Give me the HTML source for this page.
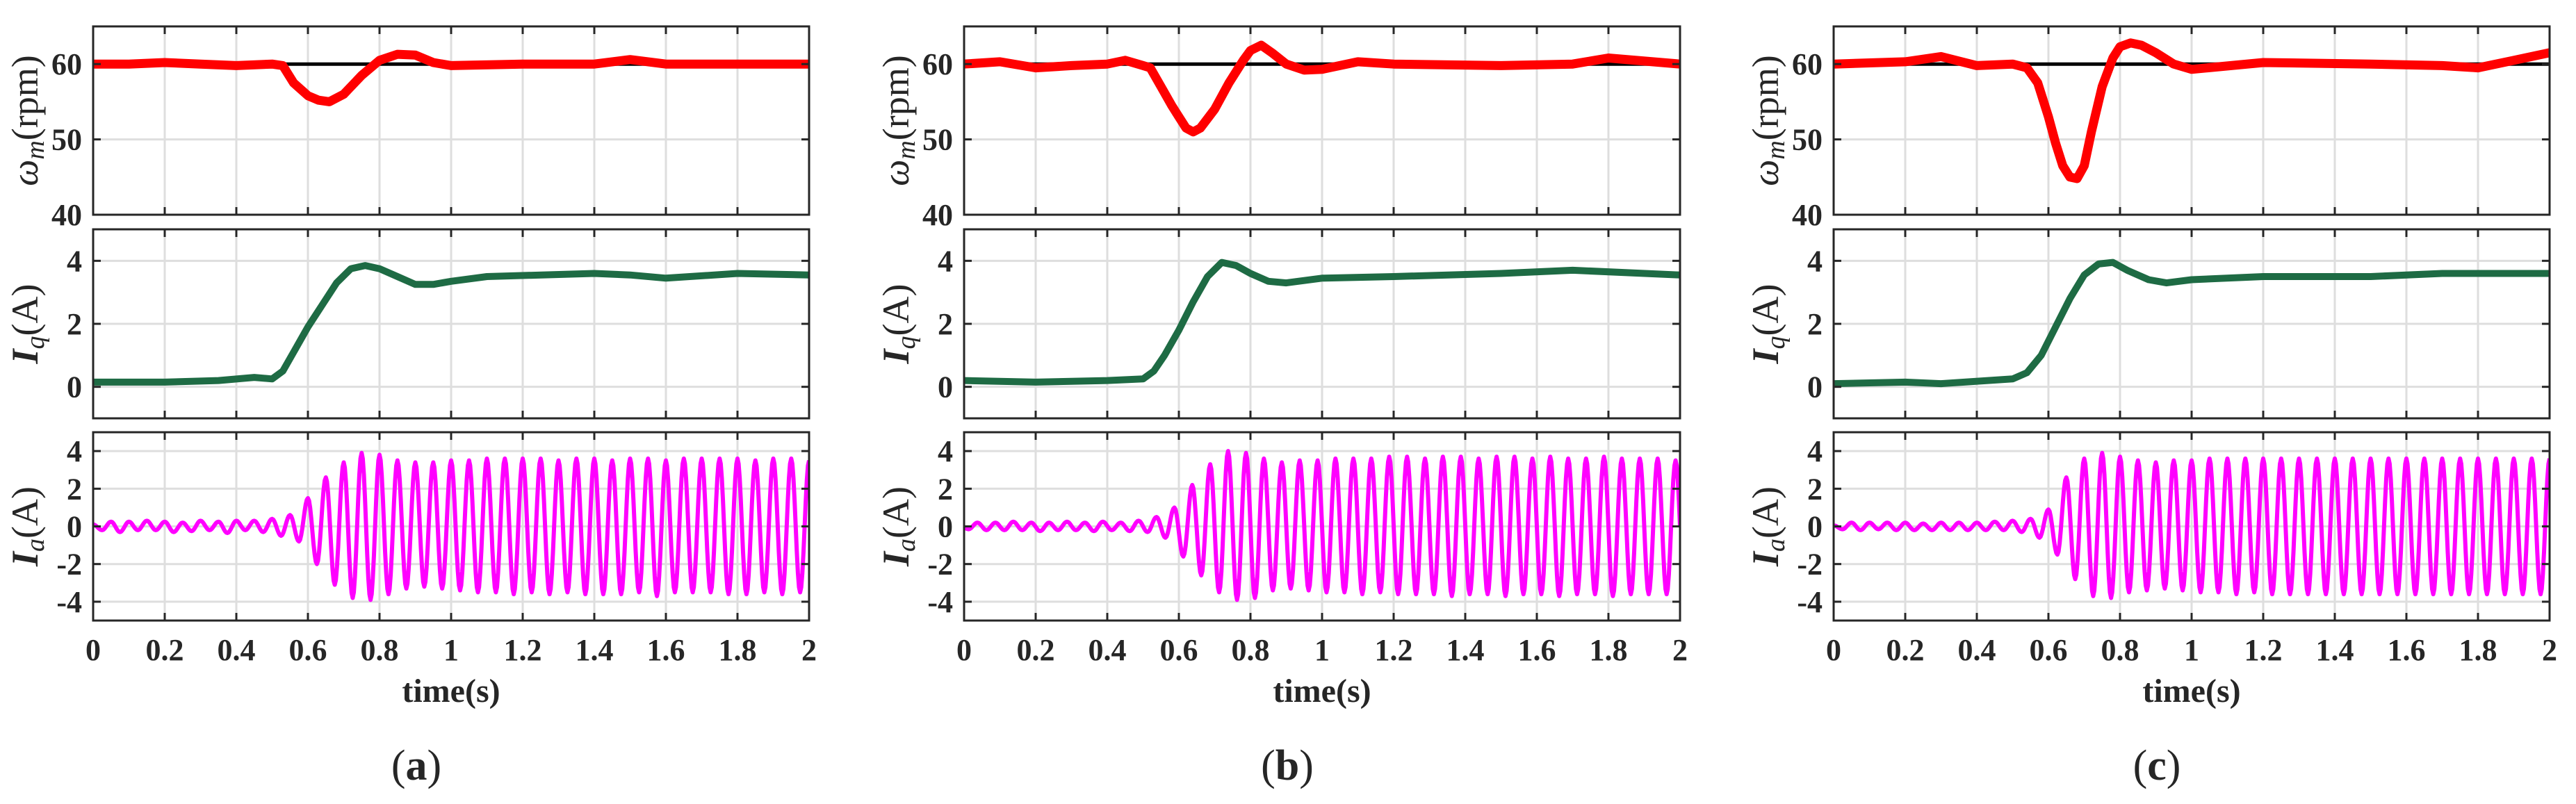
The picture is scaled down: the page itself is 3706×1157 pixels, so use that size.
<!DOCTYPE html>
<html><head><meta charset="utf-8"><style>
html,body{margin:0;padding:0;background:#fff;}
svg{display:block;}
text{font-family:"Liberation Serif",serif;fill:#262626;}
</style></head>
<body>
<svg id="fig" width="3706" height="1157" viewBox="0 0 3706 1157" xmlns="http://www.w3.org/2000/svg"></svg>
<script>
// ---------- DATA ----------
const panelNames = ["a","b","c"];
const xTicks = [0,0.2,0.4,0.6,0.8,1,1.2,1.4,1.6,1.8,2];
const xTickLabels = ["0","0.2","0.4","0.6","0.8","1","1.2","1.4","1.6","1.8","2"];
const speedTicks = [40,50,60];
const iqTicks = [0,2,4];
const iaTicks = [-4,-2,0,2,4];
const speedRef = 60;

const speedT_a = [0,0.1,0.2,0.3,0.4,0.5,0.53,0.56,0.6,0.63,0.66,0.7,0.75,0.8,0.85,0.9,0.95,1.0,1.2,1.4,1.5,1.6,1.8,2.0];
const speedV_a = [60,60,60.2,60,59.8,60,59.8,57.5,55.8,55.2,55,56,58.5,60.5,61.3,61.2,60.2,59.8,60,60,60.6,60,60,60];
const speedT_b = [0,0.1,0.2,0.3,0.4,0.45,0.5,0.52,0.55,0.58,0.6,0.62,0.64,0.66,0.7,0.74,0.78,0.8,0.83,0.86,0.9,0.95,1.0,1.1,1.2,1.5,1.7,1.8,2.0];
const speedV_b = [60,60.3,59.5,59.8,60,60.5,59.8,59.5,57,54.5,53,51.5,51,51.5,54,57.5,60.5,61.8,62.5,61.5,60,59.2,59.3,60.3,60,59.8,60,60.8,60];
const speedT_c = [0,0.2,0.3,0.4,0.5,0.54,0.57,0.6,0.62,0.64,0.66,0.68,0.7,0.72,0.75,0.78,0.8,0.83,0.86,0.9,0.95,1.0,1.2,1.5,1.7,1.8,1.9,2.0];
const speedV_c = [60,60.3,61,59.8,60,59.5,57.5,53,49.5,46.5,45,44.8,46.5,51,57,60.8,62.3,62.8,62.5,61.5,60,59.3,60.2,60,59.8,59.5,60.5,61.5];

const iqT_a = [0,0.2,0.35,0.45,0.5,0.53,0.56,0.6,0.64,0.68,0.72,0.76,0.8,0.85,0.9,0.95,1.0,1.1,1.4,1.5,1.6,1.8,2.0];
const iqV_a = [0.15,0.15,0.2,0.3,0.25,0.5,1.1,1.9,2.6,3.3,3.75,3.85,3.75,3.5,3.25,3.25,3.35,3.5,3.6,3.55,3.45,3.6,3.55];
const iqT_b = [0,0.2,0.4,0.5,0.53,0.56,0.6,0.64,0.68,0.72,0.76,0.8,0.85,0.9,1.0,1.2,1.5,1.7,2.0];
const iqV_b = [0.2,0.15,0.2,0.25,0.5,1.0,1.8,2.7,3.5,3.95,3.85,3.6,3.35,3.3,3.45,3.5,3.6,3.7,3.55];
const iqT_c = [0,0.2,0.3,0.5,0.54,0.58,0.62,0.66,0.7,0.74,0.78,0.82,0.88,0.93,1.0,1.2,1.5,1.7,2.0];
const iqV_c = [0.1,0.15,0.1,0.25,0.45,1.0,1.9,2.8,3.55,3.9,3.95,3.7,3.4,3.3,3.4,3.5,3.5,3.6,3.6];

const iaStart = [0, -0.0125, 0];
const iaExt_a = [
 0.1,-0.2, 0.25,-0.3, 0.25,-0.2, 0.3,-0.2, 0.25,-0.3, 0.2,-0.25, 0.3,-0.2, 0.25,-0.35, 0.3,-0.2, 0.3,-0.3,
 0.4,-0.5, 0.6,-0.8, 1.5,-2.0, 2.6,-3.1, 3.4,-3.8, 3.9,-3.9, 3.8,-3.6, 3.5,-3.3, 3.4,-3.2, 3.4,-3.3,
 3.5,-3.4, 3.5,-3.5, 3.6,-3.5, 3.6,-3.6, 3.6,-3.5, 3.6,-3.6, 3.5,-3.5, 3.6,-3.6, 3.6,-3.6, 3.5,-3.6,
 3.6,-3.5, 3.6,-3.7, 3.5,-3.5, 3.6,-3.5, 3.6,-3.5, 3.6,-3.6, 3.6,-3.6, 3.5,-3.5, 3.6,-3.6, 3.6,-3.5, 3.5];
const iaExt_b = [
 0.1,-0.15, 0.2,-0.2, 0.2,-0.2, 0.25,-0.2, 0.2,-0.25, 0.2,-0.2, 0.25,-0.2, 0.2,-0.25, 0.25,-0.2, 0.2,-0.25,
 0.3,-0.3, 0.5,-0.6, 1.0,-1.6, 2.2,-2.6, 3.3,-3.5, 4.0,-3.9, 3.9,-3.8, 3.6,-3.4, 3.4,-3.3, 3.5,-3.4,
 3.5,-3.5, 3.6,-3.5, 3.6,-3.6, 3.6,-3.5, 3.7,-3.6, 3.7,-3.6, 3.6,-3.6, 3.7,-3.7, 3.7,-3.6, 3.6,-3.6,
 3.7,-3.7, 3.7,-3.6, 3.6,-3.6, 3.7,-3.7, 3.6,-3.6, 3.6,-3.6, 3.7,-3.7, 3.6,-3.6, 3.6,-3.6, 3.6,-3.6, 3.5, -3.5];
const iaExt_c = [
 0.05,-0.15, 0.2,-0.2, 0.2,-0.15, 0.2,-0.2, 0.2,-0.2, 0.15,-0.2, 0.2,-0.2, 0.2,-0.2, 0.2,-0.2, 0.25,-0.2,
 0.3,-0.3, 0.4,-0.6, 0.9,-1.5, 2.6,-2.8, 3.6,-3.7, 3.9,-3.8, 3.7,-3.5, 3.5,-3.4, 3.4,-3.3, 3.5,-3.4,
 3.5,-3.5, 3.6,-3.5, 3.6,-3.6, 3.6,-3.5, 3.6,-3.6, 3.6,-3.6, 3.6,-3.6, 3.6,-3.6, 3.6,-3.6, 3.6,-3.6,
 3.6,-3.6, 3.6,-3.6, 3.6,-3.6, 3.6,-3.6, 3.6,-3.6, 3.6,-3.6, 3.6,-3.6, 3.6,-3.6, 3.6,-3.6, 3.6,-3.6, 3.6];

// ---------- LAYOUT ----------
const svg = document.getElementById('fig');
const NS = "http://www.w3.org/2000/svg";
const panelLeft = [134, 1387, 2638];
const W = 1030;
const rows = [{top:38,bottom:309,min:40,max:65},{top:330,bottom:602,min:-1,max:5},{top:622,bottom:893,min:-5,max:5}];

function mk(tag, attrs, parent){
  const e = document.createElementNS(NS, tag);
  for (const k in attrs) e.setAttribute(k, attrs[k]);
  (parent||svg).appendChild(e);
  return e;
}
function xs(L, t){ return L + t/2*W; }
function ys(r, v){ return r.bottom - (v - r.min)/(r.max - r.min)*(r.bottom - r.top); }
function linePath(L, r, T, V){
  let d = "";
  for (let i=0;i<T.length;i++){ d += (i?"L":"M") + xs(L,T[i]).toFixed(1) + "," + ys(r,V[i]).toFixed(1); }
  return d;
}
function iaPath(L, r, start, ext){
  let d = "", first = true;
  for (let j=0;j<ext.length-1;j++){
    const t0 = start + 0.025*j, v0 = ext[j], v1 = ext[j+1];
    for (let s=0;s<=8;s++){
      const t = t0 + 0.025*s/8;
      if (t < 0 || t > 2) continue;
      const v = v0 + (v1 - v0)*(1 - Math.cos(Math.PI*s/8))/2;
      d += (first?"M":"L") + xs(L,t).toFixed(1) + "," + ys(r,v).toFixed(1);
      first = false;
    }
  }
  return d;
}

const speedT = [speedT_a, speedT_b, speedT_c], speedV = [speedV_a, speedV_b, speedV_c];
const iqT = [iqT_a, iqT_b, iqT_c], iqV = [iqV_a, iqV_b, iqV_c];
const iaExt = [iaExt_a, iaExt_b, iaExt_c];
const yTicksByRow = [speedTicks, iqTicks, iaTicks];

panelNames.forEach((pn, p) => {
  const L = panelLeft[p];
  const g = mk('g', {});
  
  
  rows.forEach((r, ri) => {
    const ax = mk('g', {}, g);
    
    
    const clipId = 'clip' + p + ri;
    const cp = mk('clipPath', {id: clipId}, ax);
    mk('rect', {x:L, y:r.top, width:W, height:r.bottom-r.top}, cp);
    xTicks.forEach(t => {
      const gl = mk('line', {x1:xs(L,t), x2:xs(L,t), y1:r.top, y2:r.bottom, stroke:'#dedede', 'stroke-width':3}, ax);
      
      
    });
    yTicksByRow[ri].forEach(v => {
      const gl = mk('line', {x1:L, x2:L+W, y1:ys(r,v), y2:ys(r,v), stroke:'#dedede', 'stroke-width':3}, ax);
      
      
    });
    if (ri === 0){
      const ref = mk('line', {x1:L, x2:L+W, y1:ys(r,speedRef), y2:ys(r,speedRef), stroke:'#000', 'stroke-width':5}, ax);
      
      
      const s = mk('path', {d:linePath(L,r,speedT[p],speedV[p]), fill:'none', stroke:'#ff0000', 'stroke-width':13, 'stroke-linejoin':'round', 'clip-path':'url(#'+clipId+')'}, ax);
      
      
    } else if (ri === 1){
      const s = mk('path', {d:linePath(L,r,iqT[p],iqV[p]), fill:'none', stroke:'#1e6b44', 'stroke-width':10, 'stroke-linejoin':'round', 'clip-path':'url(#'+clipId+')'}, ax);
      
      
    } else {
      const s = mk('path', {d:iaPath(L,r,iaStart[p],iaExt[p]), fill:'none', stroke:'#ff00ff', 'stroke-width':6, 'stroke-linejoin':'round', 'clip-path':'url(#'+clipId+')'}, ax);
      
      
    }
    xTicks.forEach(t => {
      mk('line', {x1:xs(L,t), x2:xs(L,t), y1:r.top, y2:r.top+11, stroke:'#262626', 'stroke-width':3}, ax);
      mk('line', {x1:xs(L,t), x2:xs(L,t), y1:r.bottom, y2:r.bottom-11, stroke:'#262626', 'stroke-width':3}, ax);
    });
    yTicksByRow[ri].forEach(v => {
      mk('line', {x1:L, x2:L+11, y1:ys(r,v), y2:ys(r,v), stroke:'#262626', 'stroke-width':3}, ax);
      mk('line', {x1:L+W, x2:L+W-11, y1:ys(r,v), y2:ys(r,v), stroke:'#262626', 'stroke-width':3}, ax);
      const tl = mk('text', {x:L-16, y:ys(r,v)+15, 'text-anchor':'end', 'font-size':44, 'font-weight':'bold'}, ax);
      tl.textContent = String(v);
      
      
    });
    const fr = mk('rect', {x:L, y:r.top, width:W, height:r.bottom-r.top, fill:'none', stroke:'#262626', 'stroke-width':3}, ax);
    
    
    const cy = (r.top + r.bottom)/2, cx = L - 96;
    const yl = mk('text', {x:cx, y:cy, 'text-anchor':'middle', 'font-size':54, transform:'rotate(-90 '+cx+' '+cy+')', dy:16}, ax);
    
    
    if (ri === 0){
      yl.innerHTML = '<tspan font-style="italic">ω</tspan><tspan font-style="italic" font-size="38" dy="9">m</tspan><tspan dy="-9">(rpm)</tspan>';
    } else {
      yl.innerHTML = '<tspan font-style="italic" font-weight="bold">I</tspan><tspan font-style="italic" font-size="38" dy="9">' + (ri===1?'q':'a') + '</tspan><tspan dy="-9">(A)</tspan>';
    }
  });
  xTicks.forEach((t, i) => {
    const tl = mk('text', {x:xs(L,t), y:950, 'text-anchor':'middle', 'font-size':44, 'font-weight':'bold'}, g);
    tl.textContent = xTickLabels[i];
    
    
  });
  const xt = mk('text', {x:L+W/2, y:1010, 'text-anchor':'middle', 'font-size':48, 'font-weight':'bold'}, g);
  xt.textContent = 'time(s)';
  
  
  const cap = mk('text', {x:L+W/2-50, y:1122, 'text-anchor':'middle', 'font-size':62}, g);
  cap.innerHTML = '(<tspan font-weight="bold">' + pn + '</tspan>)';
  
  
});
</script>
</body></html>
